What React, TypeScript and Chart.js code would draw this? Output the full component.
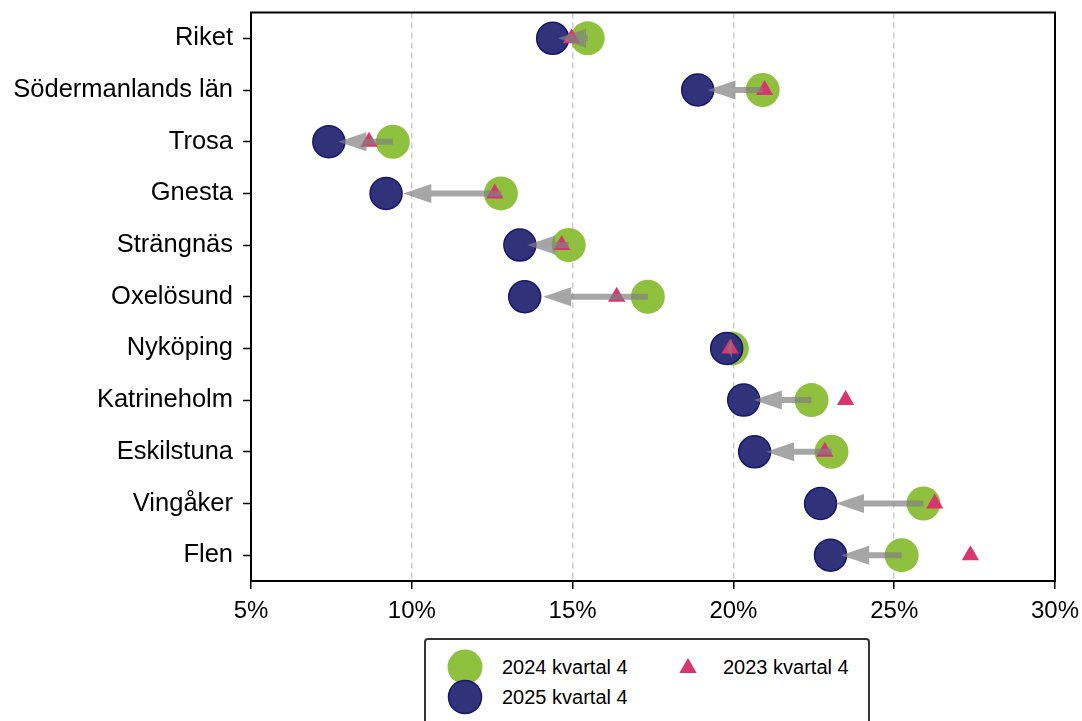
import { Chart, registerables } from "chart.js";
import { useEffect, useRef } from "react";

Chart.register(...registerables);

const regions = [
  "Riket",
  "Södermanlands län",
  "Trosa",
  "Gnesta",
  "Strängnäs",
  "Oxelösund",
  "Nyköping",
  "Katrineholm",
  "Eskilstuna",
  "Vingåker",
  "Flen",
];

// andel i procent
const q4_2024 = [15.47, 20.91, 9.41, 12.77, 14.88, 17.34, 19.95, 22.43, 23.05, 25.91, 25.23];
const q4_2025 = [14.38, 18.89, 7.42, 9.2, 13.36, 13.51, 19.79, 20.32, 20.66, 22.71, 23.02];
const q4_2023 = [14.97, 20.97, 8.67, 12.58, 14.66, 16.37, 19.9, 23.49, 22.84, 26.26, 27.37];

const xTicks = [5, 10, 15, 20, 25, 30];

const green = "#8fc13e";
const navy = "#30337a";
const navyEdge = "#16166a";
const pink = "#d9356f";
const arrowColor = "rgba(128,128,128,0.7)";
const arrowShrink = 0.85;

const fontFamily = "'Liberation Sans', Arial, sans-serif";

const arrowPlugin = {
  id: "arrows",
  afterDatasetsDraw(chart: any) {
    const { ctx, scales } = chart;
    const xs = scales.x;
    const ys = scales.y;
    ctx.save();
    ctx.fillStyle = arrowColor;
    regions.forEach((_, i) => {
      const from = q4_2024[i];
      const to = from + (q4_2025[i] - from) * arrowShrink;
      const x0 = xs.getPixelForValue(from);
      const x1 = xs.getPixelForValue(to);
      const yc = ys.getPixelForValue(i);
      const len = Math.abs(x1 - x0);
      if (len < 0.5) return;
      const dir = x1 > x0 ? 1 : -1;
      const hl = Math.min(28, len);
      const hw = 9.5;
      const sw = 3;
      const hb = x1 - dir * hl;
      ctx.beginPath();
      ctx.moveTo(x0, yc - sw);
      ctx.lineTo(hb, yc - sw);
      ctx.lineTo(hb, yc - hw);
      ctx.lineTo(x1, yc);
      ctx.lineTo(hb, yc + hw);
      ctx.lineTo(hb, yc + sw);
      ctx.lineTo(x0, yc + sw);
      ctx.closePath();
      ctx.fill();
    });
    ctx.restore();
  },
};

const framePlugin = {
  id: "frame",
  afterDraw(chart: any) {
    const { ctx, chartArea } = chart;
    ctx.save();
    ctx.strokeStyle = "#000";
    ctx.lineWidth = 2;
    ctx.strokeRect(chartArea.left, chartArea.top, chartArea.right - chartArea.left, chartArea.bottom - chartArea.top);
    ctx.restore();
  },
};

const LegendMarker = ({ type, color, edge }: { type: string; color: string; edge?: string }) => (
  <svg width="40" height="40" style={{ position: "absolute", left: -20, top: -20 }}>
    {type === "circle" ? (
      <circle cx="20" cy="20" r={edge ? 16.5 : 17.5} fill={color} stroke={edge} strokeWidth={edge ? 1.5 : 0} />
    ) : (
      <polygon points="20,10 28.7,25 11.3,25" fill={color} />
    )}
  </svg>
);

const App = () => {
  const canvasRef = useRef<HTMLCanvasElement | null>(null);
  const chartRef = useRef<any>(null);

  useEffect(() => {
    if (!canvasRef.current) return;
    if (chartRef.current) chartRef.current.destroy();

    const toPoints = (vals: number[]) => vals.map((v, i) => ({ x: v, y: regions[i] }));

    chartRef.current = new Chart(canvasRef.current, {
      type: "scatter",
      data: {
        datasets: [
          {
            label: "2024 kvartal 4",
            data: toPoints(q4_2024),
            backgroundColor: green,
            borderColor: green,
            borderWidth: 0,
            pointRadius: 17,
            pointHoverRadius: 17,
            order: 3,
          },
          {
            label: "2025 kvartal 4",
            data: toPoints(q4_2025),
            backgroundColor: navy,
            borderColor: navyEdge,
            borderWidth: 1.5,
            pointRadius: 16,
            pointHoverRadius: 16,
            order: 2,
          },
          {
            label: "2023 kvartal 4",
            data: toPoints(q4_2023),
            backgroundColor: pink,
            borderColor: pink,
            borderWidth: 0,
            pointStyle: "triangle",
            pointRadius: 10,
            pointHoverRadius: 10,
            order: 1,
          },
        ],
      } as any,
      options: {
        animation: false,
        responsive: true,
        maintainAspectRatio: false,
        layout: { padding: { top: 7, right: 27, left: 0, bottom: 0 } },
        scales: {
          x: {
            type: "linear",
            min: 5,
            max: 30,
            afterFit: (scale: any) => {
              scale.height = 140;
              scale.paddingLeft = 0;
              scale.paddingRight = 0;
            },
            afterBuildTicks: (scale: any) => {
              scale.ticks = xTicks.map((v) => ({ value: v }));
            },
            ticks: {
              color: "#000",
              padding: 8,
              font: { family: fontFamily, size: 24 },
              callback: (value: any) => `${value}%`,
            },
            grid: {
              color: "#cccccc",
              lineWidth: 1.5,
              tickColor: "#000",
              tickLength: 8,
              tickWidth: 1.5,
            },
            border: { display: true, color: "#000", width: 2, dash: [6, 4] },
          },
          y: {
            type: "category",
            labels: regions,
            offset: true,
            afterFit: (scale: any) => {
              scale.width = 251;
              scale.paddingTop = 0;
              scale.paddingBottom = 0;
            },
            ticks: {
              color: "#000",
              padding: 10,
              font: { family: fontFamily, size: 25.5 },
            },
            grid: {
              offset: false,
              drawOnChartArea: false,
              tickColor: "#000",
              tickLength: 8,
              tickWidth: 1.5,
            },
            border: { display: true, color: "#000", width: 2 },
          },
        },
        plugins: {
          legend: { display: false },
          tooltip: { enabled: false },
        },
      } as any,
      plugins: [arrowPlugin, framePlugin],
    });

    return () => chartRef.current?.destroy();
  }, []);

  const textStyle = {
    position: "absolute" as const,
    fontFamily,
    fontSize: 20,
    lineHeight: "20px",
    color: "#000",
    whiteSpace: "nowrap" as const,
  };

  return (
    <div style={{ position: "absolute", left: 0, top: 0, width: 1082, height: 721, overflow: "hidden", background: "#fff" }}>
      <div style={{ position: "absolute", left: 0, top: -5, width: 1082, height: 726 }}>
        <canvas ref={canvasRef}></canvas>
      </div>

      {/* Custom Legend */}
      <div
        style={{
          position: "absolute",
          left: 424,
          top: 638,
          width: 442,
          height: 120,
          border: "2px solid #333",
          borderRadius: 4,
          background: "#fff",
        }}
      >
        <div style={{ position: "absolute", left: 39, top: 27 }}>
          <LegendMarker type="circle" color={green} />
        </div>
        <div style={{ position: "absolute", left: 39, top: 57 }}>
          <LegendMarker type="circle" color={navy} edge={navyEdge} />
        </div>
        <div style={{ position: "absolute", left: 262, top: 28 }}>
          <LegendMarker type="triangle" color={pink} />
        </div>
        <span style={{ ...textStyle, left: 76, top: 17 }}>2024 kvartal 4</span>
        <span style={{ ...textStyle, left: 76, top: 47 }}>2025 kvartal 4</span>
        <span style={{ ...textStyle, left: 297, top: 17 }}>2023 kvartal 4</span>
      </div>
    </div>
  );
};

export default App;
